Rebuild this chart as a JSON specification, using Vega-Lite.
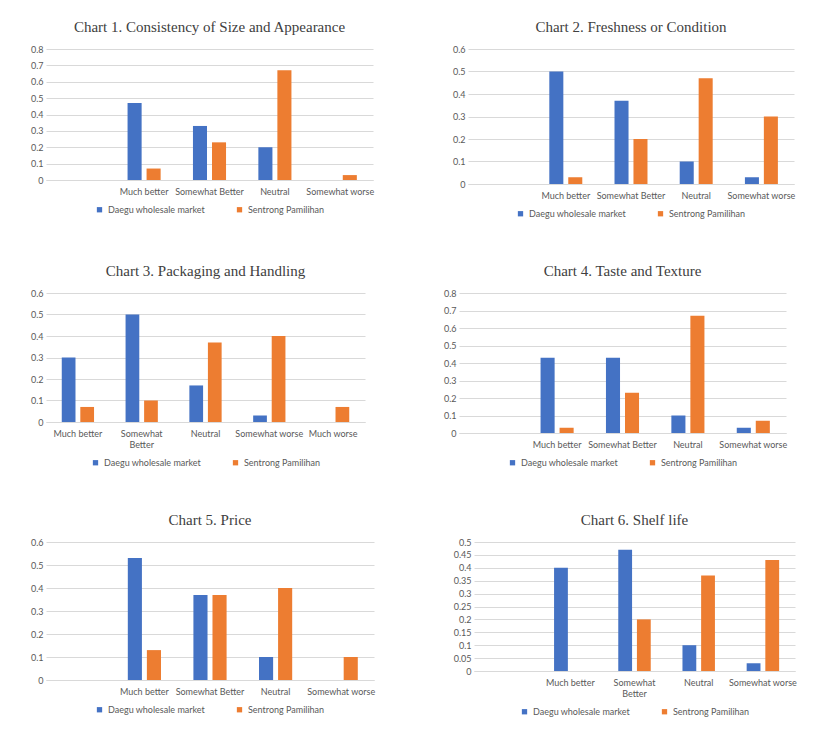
{
  "$schema": "https://vega.github.io/schema/vega-lite/v6.json",
  "background": "white",
  "padding": {"left": 30, "top": 20, "right": 5, "bottom": 5},
  "data": {"values": [
    {"chart": 1, "category": "Much better", "series": "Daegu wholesale market", "value": 0.47},
    {"chart": 1, "category": "Much better", "series": "Sentrong Pamilihan", "value": 0.07},
    {"chart": 1, "category": "Somewhat Better", "series": "Daegu wholesale market", "value": 0.33},
    {"chart": 1, "category": "Somewhat Better", "series": "Sentrong Pamilihan", "value": 0.23},
    {"chart": 1, "category": "Neutral", "series": "Daegu wholesale market", "value": 0.2},
    {"chart": 1, "category": "Neutral", "series": "Sentrong Pamilihan", "value": 0.67},
    {"chart": 1, "category": "Somewhat worse", "series": "Sentrong Pamilihan", "value": 0.03},
    {"chart": 2, "category": "Much better", "series": "Daegu wholesale market", "value": 0.5},
    {"chart": 2, "category": "Much better", "series": "Sentrong Pamilihan", "value": 0.03},
    {"chart": 2, "category": "Somewhat Better", "series": "Daegu wholesale market", "value": 0.37},
    {"chart": 2, "category": "Somewhat Better", "series": "Sentrong Pamilihan", "value": 0.2},
    {"chart": 2, "category": "Neutral", "series": "Daegu wholesale market", "value": 0.1},
    {"chart": 2, "category": "Neutral", "series": "Sentrong Pamilihan", "value": 0.47},
    {"chart": 2, "category": "Somewhat worse", "series": "Daegu wholesale market", "value": 0.03},
    {"chart": 2, "category": "Somewhat worse", "series": "Sentrong Pamilihan", "value": 0.3},
    {"chart": 3, "category": "Much better", "series": "Daegu wholesale market", "value": 0.3},
    {"chart": 3, "category": "Much better", "series": "Sentrong Pamilihan", "value": 0.07},
    {"chart": 3, "category": "Somewhat Better", "series": "Daegu wholesale market", "value": 0.5},
    {"chart": 3, "category": "Somewhat Better", "series": "Sentrong Pamilihan", "value": 0.1},
    {"chart": 3, "category": "Neutral", "series": "Daegu wholesale market", "value": 0.17},
    {"chart": 3, "category": "Neutral", "series": "Sentrong Pamilihan", "value": 0.37},
    {"chart": 3, "category": "Somewhat worse", "series": "Daegu wholesale market", "value": 0.03},
    {"chart": 3, "category": "Somewhat worse", "series": "Sentrong Pamilihan", "value": 0.4},
    {"chart": 3, "category": "Much worse", "series": "Sentrong Pamilihan", "value": 0.07},
    {"chart": 4, "category": "Much better", "series": "Daegu wholesale market", "value": 0.43},
    {"chart": 4, "category": "Much better", "series": "Sentrong Pamilihan", "value": 0.03},
    {"chart": 4, "category": "Somewhat Better", "series": "Daegu wholesale market", "value": 0.43},
    {"chart": 4, "category": "Somewhat Better", "series": "Sentrong Pamilihan", "value": 0.23},
    {"chart": 4, "category": "Neutral", "series": "Daegu wholesale market", "value": 0.1},
    {"chart": 4, "category": "Neutral", "series": "Sentrong Pamilihan", "value": 0.67},
    {"chart": 4, "category": "Somewhat worse", "series": "Daegu wholesale market", "value": 0.03},
    {"chart": 4, "category": "Somewhat worse", "series": "Sentrong Pamilihan", "value": 0.07},
    {"chart": 5, "category": "Much better", "series": "Daegu wholesale market", "value": 0.53},
    {"chart": 5, "category": "Much better", "series": "Sentrong Pamilihan", "value": 0.13},
    {"chart": 5, "category": "Somewhat Better", "series": "Daegu wholesale market", "value": 0.37},
    {"chart": 5, "category": "Somewhat Better", "series": "Sentrong Pamilihan", "value": 0.37},
    {"chart": 5, "category": "Neutral", "series": "Daegu wholesale market", "value": 0.1},
    {"chart": 5, "category": "Neutral", "series": "Sentrong Pamilihan", "value": 0.4},
    {"chart": 5, "category": "Somewhat worse", "series": "Sentrong Pamilihan", "value": 0.1},
    {"chart": 6, "category": "Much better", "series": "Daegu wholesale market", "value": 0.4},
    {"chart": 6, "category": "Somewhat Better", "series": "Daegu wholesale market", "value": 0.47},
    {"chart": 6, "category": "Somewhat Better", "series": "Sentrong Pamilihan", "value": 0.2},
    {"chart": 6, "category": "Neutral", "series": "Daegu wholesale market", "value": 0.1},
    {"chart": 6, "category": "Neutral", "series": "Sentrong Pamilihan", "value": 0.37},
    {"chart": 6, "category": "Somewhat worse", "series": "Daegu wholesale market", "value": 0.03},
    {"chart": 6, "category": "Somewhat worse", "series": "Sentrong Pamilihan", "value": 0.43}
  ]},
  "spacing": 45,
  "resolve": {"scale": {"color": "independent", "y": "independent", "x": "independent", "xOffset": "independent"}, "legend": {"color": "independent"}, "axis": {"x": "independent", "y": "independent"}},
  "vconcat": [
    {
      "spacing": 78,
      "resolve": {"scale": {"color": "independent", "y": "independent", "x": "independent", "xOffset": "independent"}, "legend": {"color": "independent"}, "axis": {"x": "independent", "y": "independent"}},
      "hconcat": [
        {
          "title": "Chart 1. Consistency of Size and Appearance",
          "width": 327, "height": 131,
          "transform": [{"filter": "datum.chart == 1"}],
          "mark": {"type": "bar"},
          "encoding": {
            "x": {"field": "category", "type": "nominal", "title": null, "scale": {"domain": [" ", "Much better", "Somewhat Better", "Neutral", "Somewhat worse"], "paddingInner": 0, "paddingOuter": 0}},
            "xOffset": {"field": "series", "type": "nominal", "scale": {"domain": ["Daegu wholesale market", "Sentrong Pamilihan"], "paddingInner": 0.26, "paddingOuter": 0.85}},
            "y": {"field": "value", "type": "quantitative", "title": null, "scale": {"domain": [0, 0.8]}, "axis": {"values": [0, 0.1, 0.2, 0.3, 0.4, 0.5, 0.6, 0.7, 0.8], "format": ".2~f"}},
            "color": {"field": "series", "type": "nominal", "scale": {"domain": ["Daegu wholesale market", "Sentrong Pamilihan"], "range": ["#4472C4", "#ED7D31"]}}
          }
        },
        {
          "title": "Chart 2. Freshness or Condition",
          "width": 326, "height": 135,
          "transform": [{"filter": "datum.chart == 2"}],
          "mark": {"type": "bar"},
          "encoding": {
            "x": {"field": "category", "type": "nominal", "title": null, "scale": {"domain": [" ", "Much better", "Somewhat Better", "Neutral", "Somewhat worse"], "paddingInner": 0, "paddingOuter": 0}},
            "xOffset": {"field": "series", "type": "nominal", "scale": {"domain": ["Daegu wholesale market", "Sentrong Pamilihan"], "paddingInner": 0.26, "paddingOuter": 0.85}},
            "y": {"field": "value", "type": "quantitative", "title": null, "scale": {"domain": [0, 0.6]}, "axis": {"values": [0, 0.1, 0.2, 0.3, 0.4, 0.5, 0.6], "format": ".2~f"}},
            "color": {"field": "series", "type": "nominal", "scale": {"domain": ["Daegu wholesale market", "Sentrong Pamilihan"], "range": ["#4472C4", "#ED7D31"]}}
          }
        }
      ]
    },
    {
      "spacing": 78,
      "resolve": {"scale": {"color": "independent", "y": "independent", "x": "independent", "xOffset": "independent"}, "legend": {"color": "independent"}, "axis": {"x": "independent", "y": "independent"}},
      "hconcat": [
        {
          "title": "Chart 3. Packaging and Handling",
          "width": 319, "height": 129,
          "transform": [{"filter": "datum.chart == 3"}],
          "mark": {"type": "bar"},
          "encoding": {
            "x": {"field": "category", "type": "nominal", "title": null, "scale": {"domain": ["Much better", "Somewhat Better", "Neutral", "Somewhat worse", "Much worse"], "paddingInner": 0, "paddingOuter": 0}, "axis": {"labelExpr": "datum.value == 'Somewhat Better' ? ['Somewhat', 'Better'] : datum.value"}},
            "xOffset": {"field": "series", "type": "nominal", "scale": {"domain": ["Daegu wholesale market", "Sentrong Pamilihan"], "paddingInner": 0.26, "paddingOuter": 0.85}},
            "y": {"field": "value", "type": "quantitative", "title": null, "scale": {"domain": [0, 0.6]}, "axis": {"values": [0, 0.1, 0.2, 0.3, 0.4, 0.5, 0.6], "format": ".2~f"}},
            "color": {"field": "series", "type": "nominal", "scale": {"domain": ["Daegu wholesale market", "Sentrong Pamilihan"], "range": ["#4472C4", "#ED7D31"]}}
          }
        },
        {
          "title": "Chart 4. Taste and Texture",
          "width": 327, "height": 140,
          "transform": [{"filter": "datum.chart == 4"}],
          "mark": {"type": "bar"},
          "encoding": {
            "x": {"field": "category", "type": "nominal", "title": null, "scale": {"domain": [" ", "Much better", "Somewhat Better", "Neutral", "Somewhat worse"], "paddingInner": 0, "paddingOuter": 0}},
            "xOffset": {"field": "series", "type": "nominal", "scale": {"domain": ["Daegu wholesale market", "Sentrong Pamilihan"], "paddingInner": 0.26, "paddingOuter": 0.85}},
            "y": {"field": "value", "type": "quantitative", "title": null, "scale": {"domain": [0, 0.8]}, "axis": {"values": [0, 0.1, 0.2, 0.3, 0.4, 0.5, 0.6, 0.7, 0.8], "format": ".2~f"}},
            "color": {"field": "series", "type": "nominal", "scale": {"domain": ["Daegu wholesale market", "Sentrong Pamilihan"], "range": ["#4472C4", "#ED7D31"]}}
          }
        }
      ]
    },
    {
      "spacing": 78,
      "resolve": {"scale": {"color": "independent", "y": "independent", "x": "independent", "xOffset": "independent"}, "legend": {"color": "independent"}, "axis": {"x": "independent", "y": "independent"}},
      "hconcat": [
        {
          "title": "Chart 5. Price",
          "width": 328, "height": 138,
          "transform": [{"filter": "datum.chart == 5"}],
          "mark": {"type": "bar"},
          "encoding": {
            "x": {"field": "category", "type": "nominal", "title": null, "scale": {"domain": [" ", "Much better", "Somewhat Better", "Neutral", "Somewhat worse"], "paddingInner": 0, "paddingOuter": 0}},
            "xOffset": {"field": "series", "type": "nominal", "scale": {"domain": ["Daegu wholesale market", "Sentrong Pamilihan"], "paddingInner": 0.26, "paddingOuter": 0.85}},
            "y": {"field": "value", "type": "quantitative", "title": null, "scale": {"domain": [0, 0.6]}, "axis": {"values": [0, 0.1, 0.2, 0.3, 0.4, 0.5, 0.6], "format": ".2~f"}},
            "color": {"field": "series", "type": "nominal", "scale": {"domain": ["Daegu wholesale market", "Sentrong Pamilihan"], "range": ["#4472C4", "#ED7D31"]}}
          }
        },
        {
          "title": "Chart 6. Shelf life",
          "width": 321, "height": 129,
          "transform": [{"filter": "datum.chart == 6"}],
          "mark": {"type": "bar"},
          "encoding": {
            "x": {"field": "category", "type": "nominal", "title": null, "scale": {"domain": [" ", "Much better", "Somewhat Better", "Neutral", "Somewhat worse"], "paddingInner": 0, "paddingOuter": 0}, "axis": {"labelExpr": "datum.value == 'Somewhat Better' ? ['Somewhat', 'Better'] : datum.value"}},
            "xOffset": {"field": "series", "type": "nominal", "scale": {"domain": ["Daegu wholesale market", "Sentrong Pamilihan"], "paddingInner": 0.26, "paddingOuter": 0.85}},
            "y": {"field": "value", "type": "quantitative", "title": null, "scale": {"domain": [0, 0.5]}, "axis": {"values": [0, 0.05, 0.1, 0.15, 0.2, 0.25, 0.3, 0.35, 0.4, 0.45, 0.5], "format": ".2~f"}},
            "color": {"field": "series", "type": "nominal", "scale": {"domain": ["Daegu wholesale market", "Sentrong Pamilihan"], "range": ["#4472C4", "#ED7D31"]}}
          }
        }
      ]
    }
  ],
  "config": {
    "view": {"stroke": null},
    "font": "Lato",
    "title": {"font": "Liberation Serif", "fontSize": 15, "fontWeight": "normal", "color": "#404040", "offset": 10, "anchor": "middle"},
    "axis": {"labelFont": "Lato", "labelFontSize": 9, "labelColor": "#595959", "ticks": false, "domain": false, "gridColor": "#d9d9d9", "title": null},
    "axisX": {"grid": false, "domain": true, "domainColor": "#d9d9d9", "labelAngle": 0, "labelPadding": 7},
    "axisY": {"grid": true, "labelPadding": 3},
    "legend": {"orient": "bottom", "direction": "horizontal", "title": null, "symbolType": "square", "symbolSize": 28, "labelFont": "Lato", "labelFontSize": 9, "labelColor": "#595959", "columnPadding": 30, "offset": 9, "layout": {"bottom": {"anchor": "middle"}}}
  }
}
